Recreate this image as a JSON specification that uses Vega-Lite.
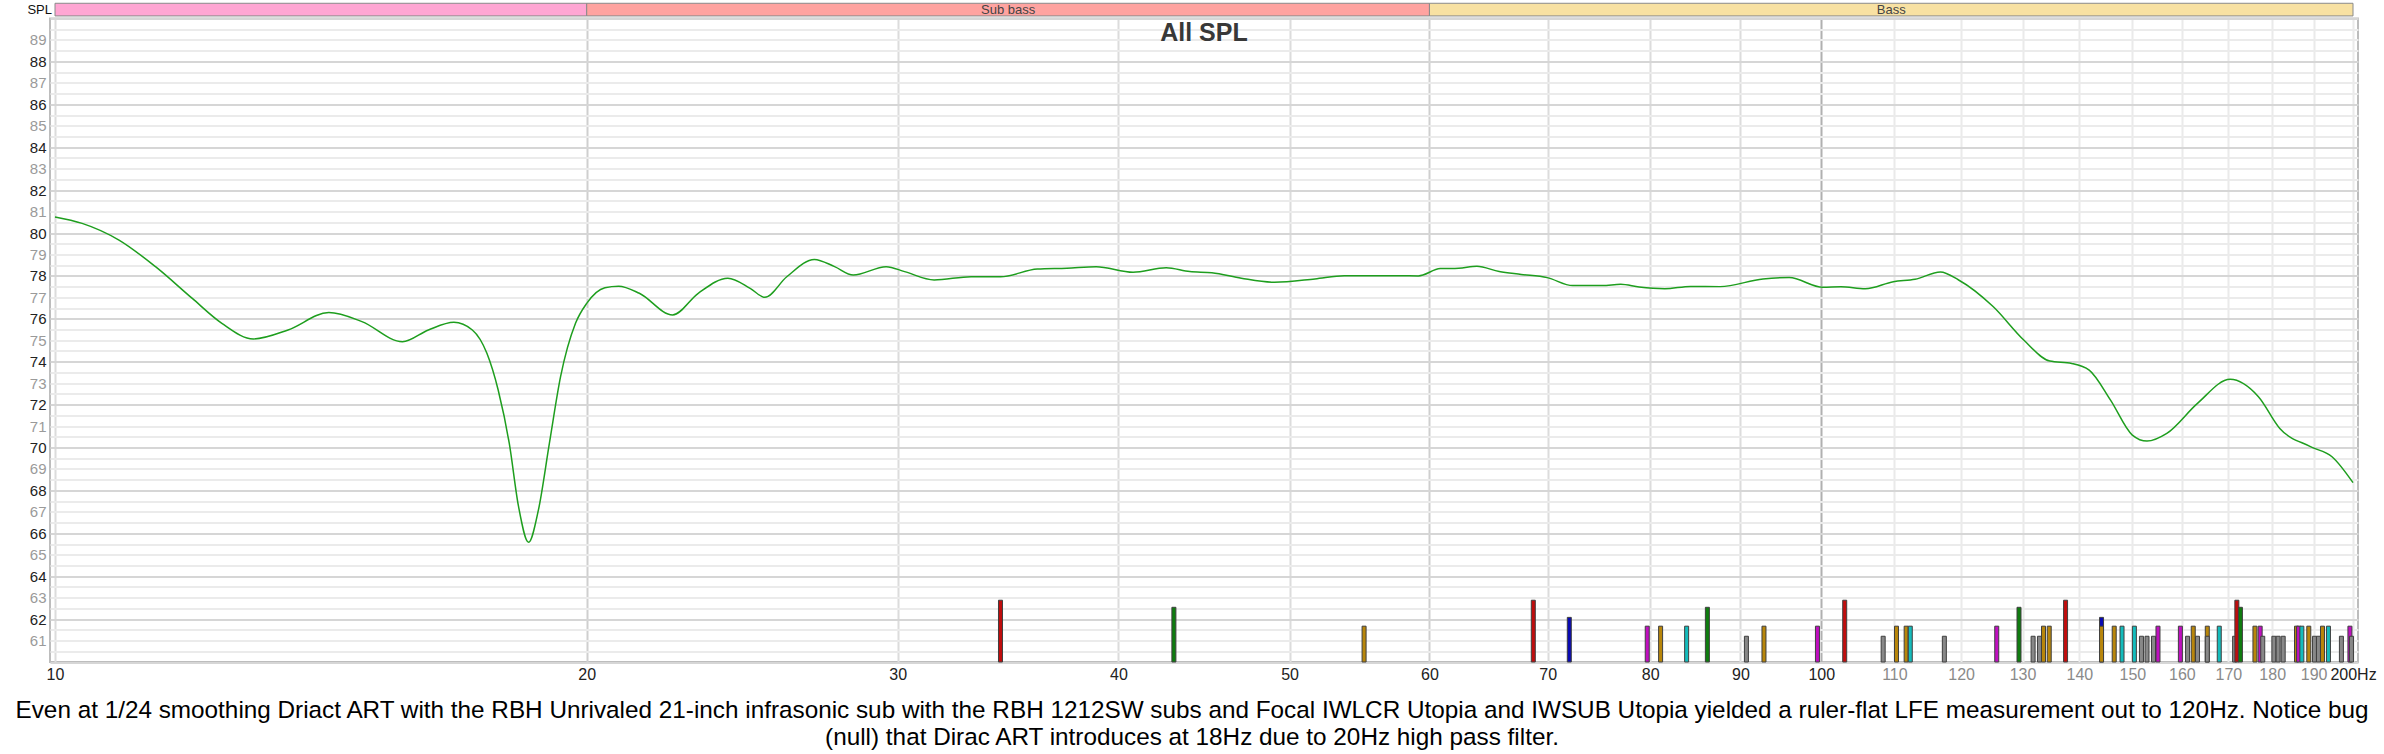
{
  "$schema": "https://vega.github.io/schema/vega-lite/v6.json",
  "width": 2308,
  "height": 643.5,
  "autosize": {"type": "none"},
  "padding": {"left": 50, "top": 18.5, "right": 26, "bottom": 92},
  "background": "white",
  "config": {
    "view": {"stroke": "#bdbdbd", "strokeWidth": 2},
    "font": "Liberation Sans",
    "axis": {"labelOverlap": false, "labelFlush": false, "labelBound": false}
  },
  "resolve": {"scale": {"color": "independent"}},
  "title": {
    "text": ["Even at 1/24 smoothing Driact ART with the RBH Unrivaled 21-inch infrasonic sub with the RBH 1212SW subs and Focal IWLCR Utopia and IWSUB Utopia yielded a ruler-flat LFE measurement out to 120Hz. Notice bug", "(null) that Dirac ART introduces at 18Hz due to 20Hz high pass filter."],
    "orient": "bottom",
    "anchor": "middle",
    "frame": "group",
    "dx": -12,
    "offset": 17,
    "fontSize": 24.3,
    "lineHeight": 26.5,
    "fontWeight": "normal",
    "font": "Liberation Sans",
    "color": "#000000"
  },
  "datasets": {
    "curve": [
      {"f": 10.0, "spl": 80.75}, {"f": 10.36, "spl": 80.45}, {"f": 10.87, "spl": 79.67}, {"f": 11.4, "spl": 78.43},
      {"f": 11.96, "spl": 76.95}, {"f": 12.43, "spl": 75.79}, {"f": 12.95, "spl": 75.06}, {"f": 13.55, "spl": 75.48},
      {"f": 14.29, "spl": 76.29}, {"f": 14.92, "spl": 75.87}, {"f": 15.73, "spl": 74.93}, {"f": 16.27, "spl": 75.48},
      {"f": 16.82, "spl": 75.84}, {"f": 17.23, "spl": 75.48}, {"f": 17.56, "spl": 74.39}, {"f": 17.82, "spl": 72.68},
      {"f": 18.08, "spl": 70.19}, {"f": 18.3, "spl": 67.24}, {"f": 18.54, "spl": 65.58}, {"f": 18.78, "spl": 67.09},
      {"f": 19.05, "spl": 70.19}, {"f": 19.33, "spl": 73.3}, {"f": 19.71, "spl": 75.79}, {"f": 20.0, "spl": 76.72},
      {"f": 20.48, "spl": 77.45}, {"f": 20.85, "spl": 77.52}, {"f": 21.42, "spl": 77.19}, {"f": 22.37, "spl": 76.18},
      {"f": 23.13, "spl": 77.19}, {"f": 24.04, "spl": 77.89}, {"f": 24.75, "spl": 77.42}, {"f": 25.23, "spl": 77.0},
      {"f": 25.96, "spl": 77.96}, {"f": 26.91, "spl": 78.77}, {"f": 27.63, "spl": 78.43}, {"f": 28.31, "spl": 78.04},
      {"f": 29.55, "spl": 78.43}, {"f": 30.27, "spl": 78.2}, {"f": 31.46, "spl": 77.81}, {"f": 33.01, "spl": 77.96},
      {"f": 34.3, "spl": 77.96}, {"f": 35.99, "spl": 78.32}, {"f": 37.4, "spl": 78.36}, {"f": 38.86, "spl": 78.43},
      {"f": 40.77, "spl": 78.17}, {"f": 42.57, "spl": 78.38}, {"f": 43.9, "spl": 78.2}, {"f": 45.18, "spl": 78.15},
      {"f": 46.95, "spl": 77.89}, {"f": 49.03, "spl": 77.7}, {"f": 51.68, "spl": 77.86}, {"f": 53.7, "spl": 78.01},
      {"f": 56.35, "spl": 78.01}, {"f": 59.13, "spl": 78.0}, {"f": 60.85, "spl": 78.34}, {"f": 62.33, "spl": 78.36},
      {"f": 63.83, "spl": 78.45}, {"f": 65.71, "spl": 78.2}, {"f": 67.63, "spl": 78.07}, {"f": 69.95, "spl": 77.92},
      {"f": 72.33, "spl": 77.55}, {"f": 75.16, "spl": 77.55}, {"f": 76.99, "spl": 77.61}, {"f": 78.86, "spl": 77.48},
      {"f": 81.55, "spl": 77.4}, {"f": 84.33, "spl": 77.51}, {"f": 87.64, "spl": 77.5}, {"f": 92.68, "spl": 77.86},
      {"f": 95.9, "spl": 77.92}, {"f": 100.2, "spl": 77.47}, {"f": 102.6, "spl": 77.5}, {"f": 105.9, "spl": 77.4},
      {"f": 109.85, "spl": 77.73}, {"f": 113.0, "spl": 77.84}, {"f": 116.8, "spl": 78.18}, {"f": 119.6, "spl": 77.81},
      {"f": 125.1, "spl": 76.57}, {"f": 130.2, "spl": 75.01}, {"f": 134.7, "spl": 74.03}, {"f": 138.6, "spl": 73.92},
      {"f": 141.8, "spl": 73.61}, {"f": 145.8, "spl": 72.21}, {"f": 150.0, "spl": 70.58}, {"f": 152.9, "spl": 70.3},
      {"f": 156.9, "spl": 70.66}, {"f": 163.3, "spl": 72.06}, {"f": 170.4, "spl": 73.18}, {"f": 176.8, "spl": 72.37},
      {"f": 181.8, "spl": 70.89}, {"f": 189.2, "spl": 70.04}, {"f": 194.6, "spl": 69.57}, {"f": 200.0, "spl": 68.36}
    ],
    "modes": [
      {"f": 34.3, "group": "red", "level": 62.88}, {"f": 43.0, "group": "green", "level": 62.55},
      {"f": 55.1, "group": "gold", "level": 61.67}, {"f": 68.7, "group": "red", "level": 62.88},
      {"f": 72.0, "group": "blue", "level": 62.08}, {"f": 79.7, "group": "magenta", "level": 61.67},
      {"f": 81.1, "group": "gold", "level": 61.67}, {"f": 83.9, "group": "cyan", "level": 61.67},
      {"f": 86.2, "group": "green", "level": 62.55}, {"f": 90.7, "group": "gray", "level": 61.2},
      {"f": 92.8, "group": "gold", "level": 61.67}, {"f": 99.5, "group": "magenta", "level": 61.67},
      {"f": 103.1, "group": "red", "level": 62.88}, {"f": 108.4, "group": "gray", "level": 61.2},
      {"f": 110.3, "group": "gold", "level": 61.67}, {"f": 111.7, "group": "gold", "level": 61.67},
      {"f": 112.3, "group": "cyan", "level": 61.67}, {"f": 117.4, "group": "gray", "level": 61.2},
      {"f": 125.7, "group": "magenta", "level": 61.67}, {"f": 129.4, "group": "green", "level": 62.55},
      {"f": 131.8, "group": "gray", "level": 61.2}, {"f": 132.9, "group": "gray", "level": 61.2},
      {"f": 133.6, "group": "gold", "level": 61.67}, {"f": 134.6, "group": "gold", "level": 61.67},
      {"f": 137.5, "group": "red", "level": 62.88}, {"f": 144.1, "group": "blue", "level": 62.08},
      {"f": 144.1, "group": "gold", "level": 61.67}, {"f": 146.5, "group": "gold", "level": 61.67},
      {"f": 148.0, "group": "cyan", "level": 61.67}, {"f": 150.4, "group": "cyan", "level": 61.67},
      {"f": 151.8, "group": "gray", "level": 61.2}, {"f": 152.9, "group": "gray", "level": 61.2},
      {"f": 154.2, "group": "gray", "level": 61.2}, {"f": 155.1, "group": "magenta", "level": 61.67},
      {"f": 159.7, "group": "magenta", "level": 61.67}, {"f": 161.2, "group": "gray", "level": 61.2},
      {"f": 162.4, "group": "gold", "level": 61.67}, {"f": 163.3, "group": "gray", "level": 61.2},
      {"f": 165.4, "group": "gold", "level": 61.67}, {"f": 165.4, "group": "gray", "level": 61.2},
      {"f": 168.0, "group": "cyan", "level": 61.67}, {"f": 171.4, "group": "gray", "level": 61.2},
      {"f": 171.9, "group": "red", "level": 62.88}, {"f": 172.7, "group": "green", "level": 62.55},
      {"f": 176.0, "group": "gold", "level": 61.67}, {"f": 177.2, "group": "magenta", "level": 61.67},
      {"f": 177.8, "group": "gray", "level": 61.2}, {"f": 180.4, "group": "gray", "level": 61.2},
      {"f": 181.4, "group": "gray", "level": 61.2}, {"f": 182.6, "group": "gray", "level": 61.2},
      {"f": 185.8, "group": "gold", "level": 61.67}, {"f": 186.3, "group": "magenta", "level": 61.67},
      {"f": 187.1, "group": "cyan", "level": 61.67}, {"f": 188.8, "group": "gold", "level": 61.67},
      {"f": 190.2, "group": "gray", "level": 61.2}, {"f": 191.2, "group": "gray", "level": 61.2},
      {"f": 192.2, "group": "gold", "level": 61.67}, {"f": 193.7, "group": "cyan", "level": 61.67},
      {"f": 197.0, "group": "gray", "level": 61.2}, {"f": 199.2, "group": "magenta", "level": 61.67},
      {"f": 199.6, "group": "gray", "level": 61.2}
    ],
    "bands": [
      {"band": "", "from": 10, "to": 20},
      {"band": "Sub bass", "from": 20, "to": 60},
      {"band": "Bass", "from": 60, "to": 200}
    ],
    "labels": [{"text": "All SPL"}]
  },
  "layer": [
    {
      "data": {"name": "curve"},
      "mark": {"type": "line", "color": "#1e9e1e", "strokeWidth": 1.5, "interpolate": "monotone"},
      "encoding": {
        "x": {
          "field": "f", "type": "quantitative",
          "scale": {"type": "log", "domain": [10, 200], "nice": false},
          "axis": {
            "title": null,
            "values": [10, 20, 30, 40, 50, 60, 70, 80, 90, 100, 110, 120, 130, 140, 150, 160, 170, 180, 190, 200],
            "tickCount": 1000,
            "labelExpr": "datum.value == 200 ? '200Hz' : datum.value",
            "labelOverlap": false,
            "labelFlush": false,
            "labelFontSize": 16,
            "labelPadding": 4,
            "labelFont": "Liberation Sans",
            "labelColor": {"condition": {"test": "datum.value > 100 && datum.value < 200", "value": "#8a8a8a"}, "value": "#222222"},
            "ticks": false,
            "domain": false,
            "grid": true,
            "gridColor": {"condition": [
              {"test": "datum.value == 100", "value": "#b0b0b0"},
              {"test": "datum.value == 20 || datum.value == 60", "value": "#cfcfcf"},
              {"test": "datum.value > 100", "value": "#eaeaea"}
            ], "value": "#dcdcdc"},
            "gridWidth": 2
          }
        },
        "y": {
          "field": "spl", "type": "quantitative",
          "scale": {"domain": [60, 90], "nice": false, "zero": false},
          "axis": {
            "title": null,
            "values": [60, 60.5, 61, 61.5, 62, 62.5, 63, 63.5, 64, 64.5, 65, 65.5, 66, 66.5, 67, 67.5, 68, 68.5, 69, 69.5, 70, 70.5, 71, 71.5, 72, 72.5, 73, 73.5, 74, 74.5, 75, 75.5, 76, 76.5, 77, 77.5, 78, 78.5, 79, 79.5, 80, 80.5, 81, 81.5, 82, 82.5, 83, 83.5, 84, 84.5, 85, 85.5, 86, 86.5, 87, 87.5, 88, 88.5, 89, 89.5, 90],
            "tickCount": 1000,
            "labelExpr": "(datum.value % 1 === 0 && datum.value > 60 && datum.value < 90) ? datum.value : ''",
            "labelOverlap": false,
            "labelFlush": false,
            "labelFontSize": 15,
            "labelPadding": 4,
            "labelFont": "Liberation Sans",
            "labelColor": {"condition": {"test": "datum.value % 2 === 0", "value": "#222222"}, "value": "#9a9a9a"},
            "ticks": false,
            "domain": false,
            "grid": true,
            "gridColor": {"condition": {"test": "datum.value % 2 === 0", "value": "#d6d6d6"}, "value": "#ebebeb"},
            "gridWidth": 2
          }
        }
      }
    },
    {
      "data": {"name": "modes"},
      "mark": {"type": "bar", "width": 4, "stroke": "#3f3f3f", "strokeWidth": 1},
      "encoding": {
        "x": {"field": "f", "type": "quantitative", "scale": {"type": "log", "domain": [10, 200], "nice": false}},
        "y": {"field": "level", "type": "quantitative", "scale": {"domain": [60, 90], "nice": false, "zero": false}},
        "y2": {"datum": 60},
        "color": {
          "field": "group", "type": "nominal", "legend": null,
          "scale": {
            "domain": ["red", "green", "blue", "gold", "magenta", "cyan", "gray"],
            "range": ["#c00d0d", "#0f7d0f", "#0a0ab4", "#b8860b", "#c00fc0", "#14bcbc", "#888888"]
          }
        }
      }
    },
    {
      "data": {"name": "bands"},
      "mark": {"type": "rect", "clip": false, "stroke": "#8a8a8a", "strokeWidth": 1},
      "encoding": {
        "x": {"field": "from", "type": "quantitative", "scale": {"type": "log", "domain": [10, 200], "nice": false}},
        "x2": {"field": "to"},
        "y": {"datum": 90.12, "scale": {"domain": [60, 90], "nice": false, "zero": false}},
        "y2": {"datum": 90.71},
        "fill": {
          "field": "band", "type": "nominal", "legend": null,
          "scale": {"domain": ["", "Sub bass", "Bass"], "range": ["#ffa6d3", "#ffa3a0", "#f8e1a2"]}
        }
      }
    },
    {
      "data": {"name": "bands"},
      "transform": [{"calculate": "sqrt(datum.from * datum.to)", "as": "mid"}],
      "mark": {"type": "text", "clip": false, "fontSize": 13, "color": "#444444", "baseline": "middle", "font": "Liberation Sans"},
      "encoding": {
        "x": {"field": "mid", "type": "quantitative", "scale": {"type": "log", "domain": [10, 200], "nice": false}},
        "y": {"datum": 90.41, "scale": {"domain": [60, 90], "nice": false, "zero": false}},
        "text": {"field": "band"}
      }
    },
    {
      "data": {"values": [{"text": "SPL"}]},
      "mark": {"type": "text", "clip": false, "fontSize": 13, "color": "#111111", "align": "right", "baseline": "middle", "dx": -3, "font": "Liberation Sans"},
      "encoding": {
        "x": {"datum": 10, "scale": {"type": "log", "domain": [10, 200], "nice": false}},
        "y": {"datum": 90.41, "scale": {"domain": [60, 90], "nice": false, "zero": false}},
        "text": {"field": "text"}
      }
    },
    {
      "data": {"name": "labels"},
      "mark": {"type": "text", "fontSize": 25, "fontWeight": "bold", "color": "#383838", "baseline": "middle", "font": "Liberation Sans"},
      "encoding": {
        "x": {"datum": 44.72, "scale": {"type": "log", "domain": [10, 200], "nice": false}},
        "y": {"datum": 89.33, "scale": {"domain": [60, 90], "nice": false, "zero": false}},
        "text": {"field": "text"}
      }
    }
  ]
}
